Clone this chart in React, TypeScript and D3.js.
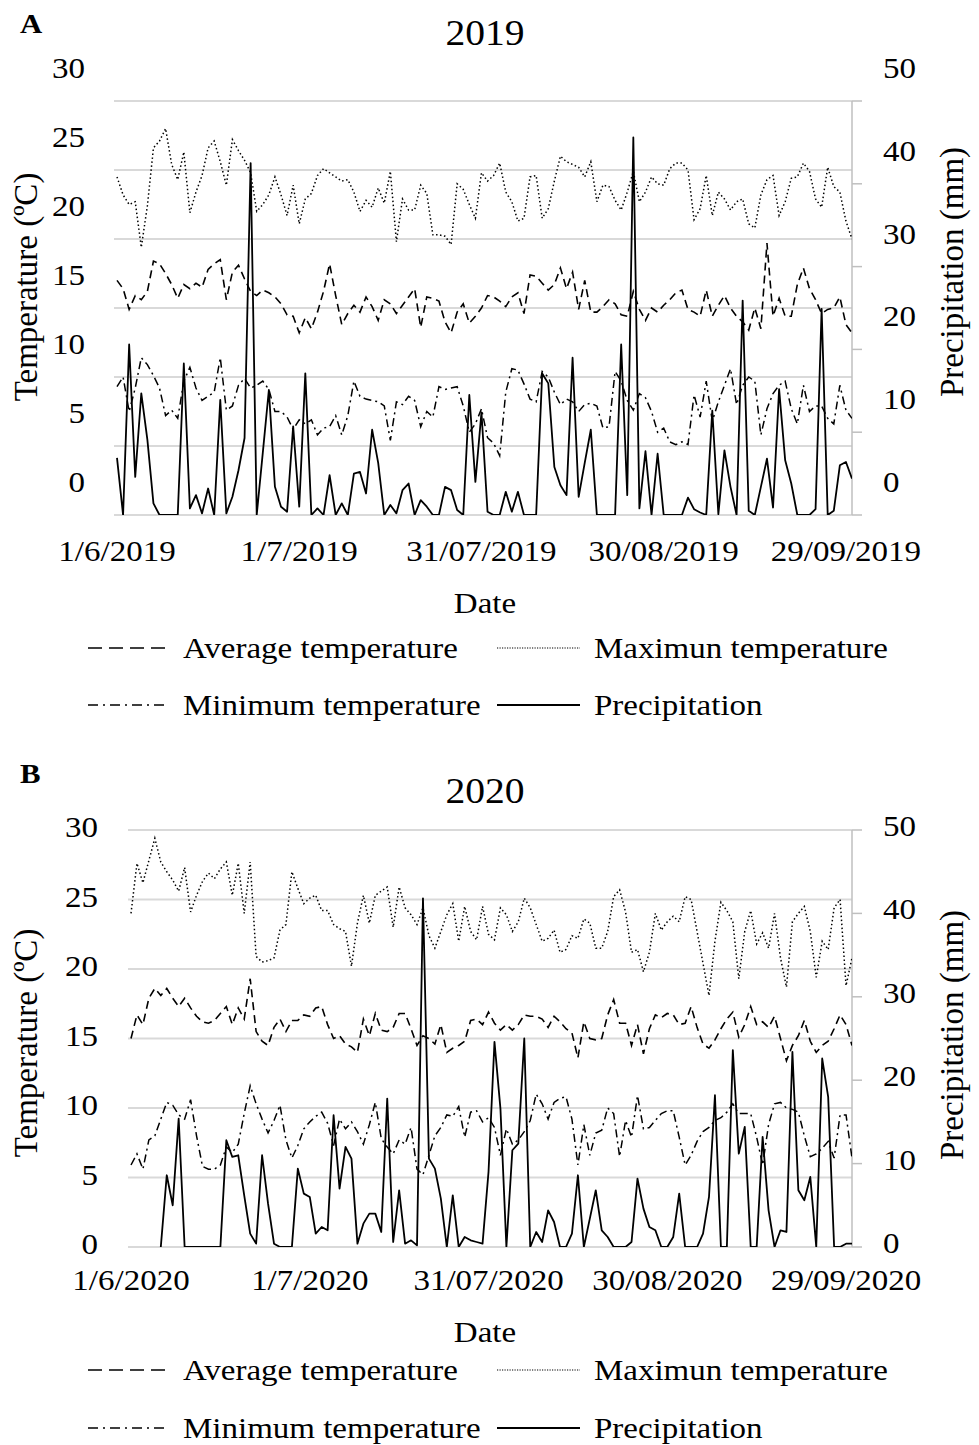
import React from 'react'
import * as d3 from 'd3'

// daily series, 1 June - 30 Sept (122 days)
const avg2019 = [
  17.0, 16.4, 14.9, 15.9, 15.6, 16.2, 18.4, 18.2, 17.5, 16.7,
  15.7, 16.7, 16.4, 16.8, 16.5, 17.8, 18.2, 18.5, 15.6, 17.6,
  18.1, 17.1, 16.2, 15.9, 16.3, 16.1, 15.8, 15.3, 14.5, 14.4,
  13.2, 14.3, 13.5, 14.7, 16.2, 18.2, 15.9, 13.8, 14.6, 15.2,
  14.7, 15.8, 15.1, 14.1, 15.6, 15.3, 14.6, 15.2, 15.8, 16.4,
  13.6, 15.8, 15.7, 15.5, 14.0, 13.2, 14.7, 15.3, 13.9, 14.4,
  15.0, 15.9, 15.8, 15.5, 15.1, 15.8, 16.1, 14.6, 17.4, 17.3,
  16.8, 16.3, 16.7, 17.9, 16.4, 17.6, 14.9, 17.0, 14.7, 14.7,
  15.1, 15.6, 15.3, 14.5, 14.4, 16.2, 14.9, 14.1, 15.0, 14.7,
  15.2, 15.6, 16.1, 16.3, 14.9, 14.7, 14.4, 16.3, 14.4, 15.2,
  15.9, 15.0, 14.4, 14.0, 13.4, 15.0, 13.5, 19.7, 14.4, 15.7,
  14.4, 14.4, 16.7, 17.9, 16.4, 15.6, 14.6, 14.9, 15.0, 15.8,
  13.8, 13.2
]
const max2019 = [
  24.5, 23.2, 22.5, 22.7, 19.4, 22.4, 26.6, 27.1, 28.0, 25.4,
  24.3, 26.3, 21.9, 23.4, 24.6, 26.6, 27.1, 25.6, 23.9, 27.2,
  26.4, 25.7, 24.8, 22.0, 22.5, 23.2, 24.5, 23.2, 21.7, 23.9,
  21.1, 22.9, 23.3, 24.6, 25.1, 24.8, 24.5, 24.2, 24.3, 23.4,
  22.0, 22.8, 22.3, 23.7, 22.6, 24.9, 19.8, 22.9, 22.1, 22.1,
  23.9, 23.3, 20.3, 20.3, 20.2, 19.6, 24.0, 23.6, 22.5, 21.5,
  24.8, 24.2, 24.6, 25.5, 23.4, 22.7, 21.3, 21.5, 24.5, 24.6,
  21.5, 22.2, 24.2, 26.0, 25.6, 25.4, 25.2, 24.5, 25.6, 22.7,
  23.9, 23.8, 22.8, 22.1, 23.4, 24.9, 22.7, 23.4, 24.5, 24.0,
  23.9, 25.1, 25.5, 25.5, 25.0, 21.4, 22.2, 24.6, 21.7, 23.4,
  22.9, 22.1, 22.7, 22.9, 21.1, 20.8, 23.2, 24.3, 24.6, 21.7,
  22.7, 24.4, 24.5, 25.5, 24.9, 22.9, 22.3, 25.2, 23.8, 23.4,
  21.3, 20.0
]
const min2019 = [
  9.3, 10.0, 7.5, 9.2, 11.4, 10.9, 10.1, 9.2, 7.2, 7.6,
  7.0, 9.7, 10.7, 9.2, 8.3, 8.6, 8.9, 11.4, 7.6, 7.9,
  9.4, 9.9, 9.2, 9.4, 9.7, 9.1, 7.5, 7.5, 7.1, 6.2,
  6.9, 6.6, 6.9, 5.8, 6.3, 6.4, 7.2, 5.8, 7.2, 9.7,
  8.6, 8.4, 8.3, 8.2, 7.9, 5.4, 8.2, 8.0, 8.6, 8.3,
  6.4, 7.5, 7.1, 9.3, 9.1, 9.2, 9.3, 7.9, 6.0, 6.6,
  7.7, 5.6, 5.2, 4.3, 8.9, 10.6, 10.5, 9.5, 8.4, 8.2,
  10.4, 10.0, 8.9, 8.0, 8.4, 8.2, 7.5, 8.0, 8.1, 7.9,
  6.3, 6.4, 10.4, 9.7, 8.3, 7.6, 8.8, 8.5, 7.5, 6.0,
  6.3, 5.3, 5.1, 5.3, 5.1, 8.7, 7.1, 9.7, 6.8, 8.2,
  9.4, 10.6, 8.0, 9.4, 10.0, 9.7, 5.8, 7.7, 8.8, 9.4,
  9.7, 7.7, 6.6, 9.4, 7.5, 7.9, 7.9, 7.0, 6.6, 9.4,
  7.6, 7.0
]
const prec2019 = [
  6.9, 0, 20.6, 4.6, 14.7, 9.1, 1.4, 0, 0, 0,
  0, 18.3, 0.8, 2.4, 0.2, 3.2, 0, 13.9, 0.2, 2.2,
  5.4, 9.3, 42.5, 0, 7.5, 15.1, 3.4, 1.0, 0.4, 10.7,
  1.0, 17.1, 0, 0.8, 0, 4.8, 0, 1.4, 0, 5.0,
  5.2, 2.6, 10.3, 6.3, 0, 1.2, 0.2, 3.0, 3.8, 0,
  1.8, 1.0, 0, 0, 3.4, 3.0, 0.6, 0, 14.5, 4.0,
  12.4, 0.4, 0, 0, 2.8, 0.4, 2.8, 0, 0, 0,
  17.1, 15.9, 5.8, 3.6, 2.4, 19.0, 2.2, 6.3, 10.3, 0,
  0, 0, 0, 20.6, 2.4, 45.6, 0.8, 7.7, 0, 7.4,
  0, 0, 0, 0, 2.1, 0.7, 0.3, 0, 12.6, 0.1,
  7.8, 3.4, 0, 25.9, 0.5, 0, 3.4, 6.8, 0.9, 15.2,
  6.6, 3.8, 0, 0, 0, 0.7, 24.9, 0, 0.5, 6.0,
  6.4, 4.4
]

const avg2020 = [
  15.0, 16.7, 16.0, 17.9, 18.6, 18.1, 18.6, 17.9, 17.3, 17.9,
  17.2, 16.6, 16.2, 16.1, 16.3, 16.8, 17.3, 16.0, 17.2, 16.4,
  19.3, 15.5, 14.8, 14.5, 15.8, 16.4, 15.5, 16.3, 16.3, 16.7,
  16.6, 17.2, 17.3, 16.0, 15.0, 15.2, 14.6, 14.4, 14.0, 16.4,
  15.2, 16.8, 15.6, 15.5, 15.8, 16.8, 16.8, 15.7, 14.5, 15.2,
  15.0, 14.6, 16.0, 14.0, 14.3, 14.5, 14.8, 16.3, 16.4, 16.0,
  16.9, 16.1, 15.6, 16.0, 15.6, 16.0, 16.7, 16.6, 16.6, 16.4,
  15.8, 16.6, 16.2, 15.7, 15.4, 13.6, 16.2, 15.0, 14.9, 15.0,
  16.7, 17.8, 16.1, 16.1, 14.5, 16.0, 13.9, 15.7, 16.7, 16.5,
  16.8, 16.7, 16.0, 16.1, 17.3, 15.8, 14.6, 14.3, 14.9, 15.7,
  16.4, 16.9, 15.1, 16.0, 17.3, 16.0, 16.2, 15.8, 16.6, 15.0,
  13.4, 14.5, 15.2, 16.3, 14.8, 14.0, 14.5, 14.8, 15.7, 16.7,
  16.0, 14.5
]
const max2020 = [
  24.0, 27.6, 26.2, 27.8, 29.4, 27.7, 27.0, 26.4, 25.6, 27.3,
  24.1, 25.3, 26.3, 26.9, 26.5, 27.2, 27.7, 25.3, 27.6, 24.0,
  27.7, 20.9, 20.5, 20.6, 20.8, 22.8, 23.2, 27.0, 25.8, 24.7,
  25.1, 25.3, 24.2, 24.2, 23.2, 22.9, 22.7, 20.2, 23.3, 25.3,
  23.3, 25.3, 25.6, 25.9, 23.0, 25.9, 24.4, 23.9, 23.2, 24.4,
  22.4, 21.5, 22.7, 23.9, 24.7, 22.0, 24.5, 22.7, 22.1, 24.5,
  22.5, 22.1, 24.4, 23.9, 22.7, 23.4, 25.1, 24.4, 23.2, 22.0,
  22.2, 22.8, 21.2, 21.4, 22.4, 22.2, 23.6, 23.3, 21.5, 21.5,
  22.7, 25.2, 25.7, 24.1, 21.2, 21.4, 19.8, 21.2, 24.0, 22.8,
  23.4, 23.8, 23.4, 25.2, 25.0, 22.7, 20.4, 18.1, 22.0, 24.8,
  24.2, 23.4, 19.3, 22.7, 24.2, 21.8, 22.6, 21.5, 24.0, 20.8,
  18.7, 23.4, 24.0, 24.5, 22.7, 19.4, 22.0, 21.4, 24.4, 25.0,
  18.8, 20.8
]
const min2020 = [
  5.9, 6.7, 5.6, 7.7, 8.0, 9.2, 10.4, 10.2, 9.5, 9.2,
  10.6, 8.0, 5.8, 5.6, 5.6, 5.9, 7.2, 6.8, 7.4, 9.6,
  11.6, 10.3, 9.2, 8.2, 9.1, 10.2, 7.7, 6.4, 7.3, 8.5,
  9.0, 9.4, 9.7, 8.9, 7.3, 9.2, 8.5, 9.0, 8.3, 7.4,
  8.8, 10.4, 7.8, 7.2, 6.7, 7.7, 7.4, 8.6, 5.6, 5.2,
  6.6, 8.0, 8.6, 9.5, 9.4, 10.1, 7.9, 9.7, 9.8, 9.0,
  9.3, 8.6, 6.6, 8.5, 7.4, 7.7, 8.3, 9.1, 11.0, 10.3,
  9.2, 10.4, 10.7, 10.8, 9.2, 5.9, 8.8, 6.6, 8.2, 8.4,
  10.0, 9.6, 6.5, 9.1, 7.9, 10.9, 8.5, 8.6, 9.1, 9.6,
  9.8, 9.8, 7.9, 5.9, 6.6, 7.6, 8.3, 8.6, 9.1, 9.3,
  9.7, 10.3, 9.6, 9.6, 9.6, 7.9, 5.9, 8.8, 10.3, 10.4,
  10.0, 9.9, 9.7, 8.0, 6.5, 6.7, 7.1, 7.6, 6.4, 9.5,
  9.5, 6.4
]
// first days of 2020 have no precipitation record
const prec2020 = [
  null, null, null, null, null, 0, 8.6, 5.0, 15.4, 0,
  0, 0, 0, 0, 0, 0, 12.8, 10.8, 11.0, 6.2,
  1.6, 0.4, 11.0, 5.2, 0.4, 0, 0, 0, 9.4, 6.4,
  6.0, 1.6, 2.4, 2.0, 15.8, 7.0, 12.0, 10.6, 0.4, 2.8,
  4.0, 4.0, 1.8, 17.8, 0.6, 6.8, 0.4, 0.8, 0.2, 41.8,
  10.6, 9.4, 5.8, 0, 6.2, 0, 1.2, 0.8, 0.6, 0.4,
  9.0, 24.6, 16.6, 0, 11.6, 12.4, 25.0, 0, 1.8, 0.6,
  4.4, 3.0, 0, 0, 1.6, 8.6, 0, 3.4, 6.8, 2.0,
  1.2, 0, 0, 0, 0.6, 8.2, 4.6, 2.4, 2.0, 0,
  0, 1.2, 6.4, 0, 0, 0, 1.6, 6.0, 18.2, 0,
  0, 23.6, 11.2, 14.4, 0, 0, 13.2, 4.4, 0, 2.0,
  1.8, 23.4, 6.8, 5.6, 8.4, 0, 22.6, 18.0, 0, 0,
  0.4, 0.4
]

const ticks2019 = ['1/6/2019', '1/7/2019', '31/07/2019', '30/08/2019', '29/09/2019']
const ticks2020 = ['1/6/2020', '1/7/2020', '31/07/2020', '30/08/2020', '29/09/2020']
const tempTicks = [0, 5, 10, 15, 20, 25, 30]
const precTicks = [0, 10, 20, 30, 40, 50]

const FONT = "'Liberation Serif', 'Times New Roman', serif"
const RIGHT = 852
const SX = 1.1 // text in the source figure is a bit wider than tall

const parse = d3.timeParse('%d/%m/%Y')

function Txt({ x, y, size = 30, anchor = 'start', bold = false, children }) {
  return (
    <text
      transform={`translate(${x},${y}) scale(${SX},1)`}
      textAnchor={anchor}
      fontSize={size}
      fontWeight={bold ? 'bold' : 'normal'}
      fontFamily={FONT}
      fill="#000"
    >
      {children}
    </text>
  )
}

function Panel({ cfg, avg, max, min, prec, ticks }) {
  const start = parse(ticks[0])
  const days = avg.map((_, i) => d3.timeDay.offset(start, i))
  const x = d3.scaleTime().domain([days[0], days[days.length - 1]]).range([cfg.dataLeft, RIGHT])
  const yT = d3.scaleLinear().domain([0, 30]).range([cfg.bottom, cfg.top])
  const yP = d3.scaleLinear().domain([0, 50]).range([cfg.bottom, cfg.top])

  const lineT = d3.line().x((d, i) => x(days[i])).y(d => yT(d))
  const lineP = d3.line()
    .defined(d => d != null)
    .x((d, i) => x(days[i])).y(d => yP(d))

  const clipId = 'plot-' + cfg.letter
  const legendY1 = cfg.legend1
  const legendY2 = cfg.legend2

  return (
    <g>
      <defs>
        <clipPath id={clipId}>
          <rect x={cfg.left} y={cfg.top - 5} width={RIGHT - cfg.left} height={cfg.bottom - cfg.top + 5} />
        </clipPath>
      </defs>
      <Txt x={20} y={cfg.letterY} size={28} bold>{cfg.letter}</Txt>
      <Txt x={485} y={cfg.titleY} size={36} anchor="middle">{cfg.title}</Txt>

      {/* gridlines */}
      <g stroke="#d9d9d9" strokeWidth="2">
        {tempTicks.map(t => (
          <line key={t} x1={cfg.left} x2={RIGHT} y1={yT(t)} y2={yT(t)} />
        ))}
      </g>

      {/* left axis labels */}
      {tempTicks.map(t => (
        <Txt key={t} x={cfg.leftLabelX} y={yT(t) + cfg.leftDy} anchor="end">{t}</Txt>
      ))}

      {/* right axis */}
      <g stroke="#bfbfbf" strokeWidth="1.5">
        <line x1={RIGHT} x2={RIGHT} y1={cfg.top} y2={cfg.bottom} />
        {precTicks.map(t => (
          <line key={t} x1={RIGHT} x2={RIGHT + 10} y1={yP(t)} y2={yP(t)} />
        ))}
      </g>
      {precTicks.map(t => (
        <Txt key={t} x={883} y={yP(t) + cfg.rightDy}>{t}</Txt>
      ))}

      {/* x labels */}
      {ticks.map(s => (
        <Txt key={s} x={x(parse(s))} y={cfg.xLabelY} anchor="middle">{s}</Txt>
      ))}
      <Txt x={485} y={cfg.dateY} anchor="middle">Date</Txt>

      <text
        transform={`translate(37,${cfg.tempTitleY}) rotate(-90)`}
        textAnchor="middle" fontSize={33} fontFamily={FONT}
      >Temperature (ºC)</text>
      <text
        transform={`translate(963,${cfg.precTitleY}) rotate(-90)`}
        textAnchor="middle" fontSize={33} fontFamily={FONT}
      >Precipitation (mm)</text>

      {/* series */}
      <g clipPath={`url(#${clipId})`}>
        <path d={lineT(max)} fill="none" stroke="#000" strokeWidth="1.5" strokeDasharray="1.5,2.5" />
        <path d={lineT(avg)} fill="none" stroke="#000" strokeWidth="1.6" strokeDasharray="8,5" />
        <path d={lineT(min)} fill="none" stroke="#000" strokeWidth="1.5" strokeDasharray="8,4,2,4" />
        <path d={lineP(prec)} fill="none" stroke="#000" strokeWidth="1.8" strokeLinejoin="round" />
      </g>

      {/* legend */}
      <line x1={88} x2={165} y1={legendY1 - 10} y2={legendY1 - 10} stroke="#000" strokeWidth="1.5" strokeDasharray="14,7" />
      <Txt x={183} y={legendY1}>Average temperature</Txt>
      <line x1={497} x2={580} y1={legendY1 - 10} y2={legendY1 - 10} stroke="#000" strokeWidth="1.2" strokeDasharray="1.2,1.3" />
      <Txt x={594} y={legendY1}>Maximun temperature</Txt>
      <line x1={88} x2={165} y1={legendY2 - 10} y2={legendY2 - 10} stroke="#000" strokeWidth="1.5" strokeDasharray="10,5,2,5" />
      <Txt x={183} y={legendY2}>Minimum temperature</Txt>
      <line x1={497} x2={580} y1={legendY2 - 10} y2={legendY2 - 10} stroke="#000" strokeWidth="1.8" />
      <Txt x={594} y={legendY2}>Precipitation</Txt>
    </g>
  )
}

const cfgA = {
  letter: 'A', letterY: 33, title: '2019', titleY: 45,
  left: 114, dataLeft: 117, top: 101, bottom: 515,
  leftLabelX: 85, leftDy: -23, rightDy: -23,
  xLabelY: 561, dateY: 613, legend1: 658, legend2: 715,
  tempTitleY: 287, precTitleY: 272
}
const cfgB = {
  letter: 'B', letterY: 783, title: '2020', titleY: 803,
  left: 128, dataLeft: 131, top: 830, bottom: 1247,
  leftLabelX: 98, leftDy: 7, rightDy: 6,
  xLabelY: 1290, dateY: 1342, legend1: 1380, legend2: 1438,
  tempTitleY: 1043, precTitleY: 1035
}

export default function App() {
  return (
    <svg width={979} height={1445} style={{ position: 'absolute', left: 0, top: 0, background: '#fff' }}>
      <Panel cfg={cfgA} avg={avg2019} max={max2019} min={min2019} prec={prec2019} ticks={ticks2019} />
      <Panel cfg={cfgB} avg={avg2020} max={max2020} min={min2020} prec={prec2020} ticks={ticks2020} />
    </svg>
  )
}
